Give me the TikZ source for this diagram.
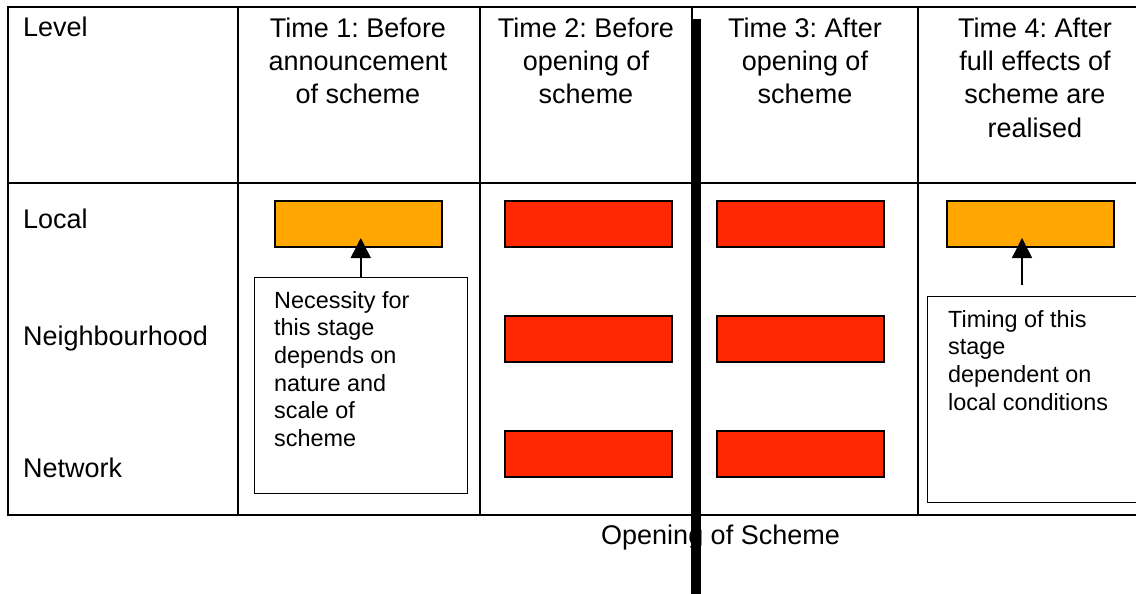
\documentclass[tikz,border=0pt]{standalone}
\usepackage{fontspec}
\setmainfont{Liberation Sans}
\usetikzlibrary{arrows.meta}
\definecolor{boxorange}{RGB}{255,166,0}
\definecolor{boxred}{RGB}{255,40,0}
\frenchspacing
\begin{document}
\frenchspacing
\begin{tikzpicture}[x=1pt,y=-1pt,
  grid/.style={line width=2pt},
  hdr/.style={anchor=north, inner sep=0pt, align=center, font=\fontsize{27}{33.3}\selectfont\frenchspacing},
  lbl/.style={anchor=base west, inner sep=0pt, font=\fontsize{27}{33.3}\selectfont},
  stagebox/.style={draw, line width=2pt, minimum width=167pt, minimum height=46pt, inner sep=0pt, anchor=north west},
  notebox/.style={draw, line width=1.5pt, inner sep=0pt, anchor=north west},
  notetext/.style={anchor=north west, inner sep=0pt, align=left, font=\fontsize{23.4}{27.7}\selectfont},
  pointer/.style={line width=1.5pt, -{Triangle[length=20pt,width=20pt]}}
]
\useasboundingbox (0,0) rectangle (1136,594);
\fill[white] (0,0) rectangle (1136,594);
% table grid
\draw[grid] (7.5,7.5) -- (1140,7.5);
\draw[grid] (7.5,183) -- (1140,183);
\draw[grid] (7.5,514.5) -- (1140,514.5);
\draw[grid] (7.5,6.5) -- (7.5,515.5);
\draw[grid] (238,7.5) -- (238,514.5);
\draw[grid] (480,7.5) -- (480,514.5);
\draw[grid] (692,7.5) -- (692,514.5);
\draw[grid] (918,7.5) -- (918,514.5);
% headers
\node[lbl] (hlevel) at (23,37) {Level};
\node[hdr] (h1) at (358,17.5) {Time 1: Before\\announcement\\of scheme};
\node[hdr] (h2) at (586,17.5) {Time 2: Before\\opening of\\scheme};
\node[hdr] (h3) at (805,17.5) {Time 3: After\\opening of\\scheme};
\node[hdr] (h4) at (1035,17.5) {Time 4: After\\full effects of\\scheme are\\realised};
% row labels
\node[lbl] (rlocal) at (23,228) {Local};
\node[lbl] (rneigh) at (23,345) {Neighbourhood};
\node[lbl] (rnet) at (23,477) {Network};
% stage boxes
\node[stagebox, fill=boxorange] (o1) at (274,200) {};
\node[stagebox, fill=boxred] (r2a) at (504,200) {};
\node[stagebox, fill=boxred] (r2b) at (504,315) {};
\node[stagebox, fill=boxred] (r2c) at (504,430) {};
\node[stagebox, fill=boxred] (r3a) at (716,200) {};
\node[stagebox, fill=boxred] (r3b) at (716,315) {};
\node[stagebox, fill=boxred] (r3c) at (716,430) {};
\node[stagebox, fill=boxorange] (o4) at (946,200) {};
% note boxes
\node[notebox, minimum width=213pt, minimum height=216pt] (n1) at (253.5,276.5) {};
\node[notetext] (t1) at (274,291) {Necessity for\\this stage\\depends on\\nature and\\scale of\\scheme};
\node[notebox, minimum width=230pt, minimum height=206pt] (n4) at (926.5,295.5) {};
\node[notetext] (t4) at (948,310) {Timing of this\\stage\\dependent on\\local conditions};
% pointers
\draw[pointer] (n1.north) -- (n1.north |- 0,238);
\coordinate (a4) at (1022,285);
\draw[pointer] (a4) -- (a4 |- 0,238);
% opening label and bar
\node[lbl] (open) at (601,544) {Opening of Scheme};
\coordinate (bartop) at (696,19);
\coordinate (barbot) at (696,600);
\draw[line width=10pt] (bartop) -- (barbot);
\end{tikzpicture}
\end{document}
